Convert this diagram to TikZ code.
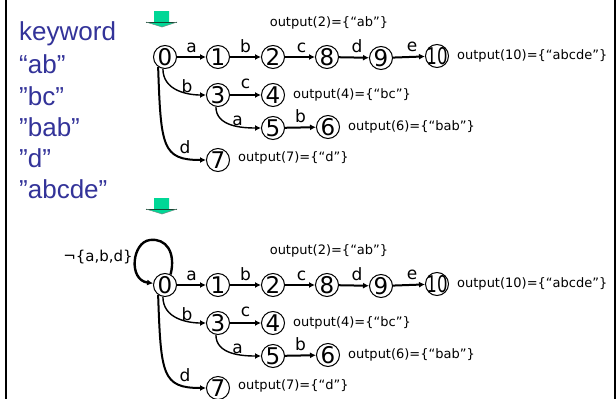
\documentclass[tikz,border=0pt]{standalone}
\usepackage{fontspec}
\usepackage{graphicx}
\setmainfont{DejaVu Sans}
\newfontfamily\kwfont{Liberation Sans}
\usetikzlibrary{arrows.meta}
\definecolor{kwblue}{RGB}{51,51,153}
\definecolor{mint}{RGB}{0,215,150}
\definecolor{mintdark}{RGB}{20,70,50}

\newcommand\drawtrie[2]{%
\begin{scope}[yshift=-#1pt]
  \node[st] (#2n0) at (165,-57) {0};
  \node[st] (#2n1) at (218,-57) {1};
  \node[st] (#2n2) at (273,-57) {2};
  \node[st] (#2n8) at (327,-57) {8};
  \node[st] (#2n9) at (381,-58) {9};
  \node[st] (#2n10) at (437,-56) {\makebox[0pt]{\scalebox{0.72}[1]{10}}};
  \node[st] (#2n3) at (218,-95) {3};
  \node[st] (#2n4) at (273,-95) {4};
  \node[st] (#2n5) at (273,-128) {5};
  \node[st] (#2n6) at (328,-127) {6};
  \node[st] (#2n7) at (218,-160) {7};
  \draw[ed] (#2n0) -- node[lb]{a} (#2n1);
  \draw[ed] (#2n1) -- node[lb]{b} (#2n2);
  \draw[ed] (#2n2) -- node[lb,pos=0.55]{c} (#2n8);
  \draw[ed] (#2n8) -- node[lb,pos=0.6]{d} (#2n9);
  \draw[ed] (#2n9) -- node[lb,pos=0.6]{e} (#2n10);
  \draw[ed] (#2n3) -- node[lb,yshift=2pt]{c} (#2n4);
  \draw[ed] (#2n5) -- node[lb]{b} (#2n6);
  \draw[edthin] (#2n0.-100) to[out=-90,in=180,out distance=22pt,in distance=18pt] (#2n3);
  \draw[edthin] (#2n3.-100) to[out=-90,in=180,out distance=20pt,in distance=18pt] (#2n5);
  \draw[ed] (#2n0.-125) to[out=-88,in=180,out distance=80pt,in distance=44pt] (#2n7);
  \node[lbf] (#2lb03) at (187,-92) {b};
  \node[lbf] (#2la35) at (237.5,-125) {a};
  \node[lbf] (#2ld07) at (185,-153) {d};
  \node[outl,anchor=center] (#2o2) at (329,-23) {output(2)=\{“ab”\}};
  \node[outl] (#2o10) at ([xshift=8pt]#2n10.east) {output(10)=\{“abcde”\}};
  \node[outl] (#2o4) at ([xshift=8pt]#2n4.east) {output(4)=\{“bc”\}};
  \node[outl] (#2o6) at ([xshift=8pt]#2n6.east) {output(6)=\{“bab”\}};
  \node[outl] (#2o7) at ([xshift=8pt,yshift=2pt]#2n7.east) {output(7)=\{“d”\}};
\end{scope}}

\newcommand\greenarrow[1]{%
\begin{scope}[yshift=-#1pt]
  \fill[mint] (154,-11) -- (169,-11) -- (169,-22) -- (177,-22) -- (162,-27) -- (146,-22) -- (154,-22) -- cycle;
  \draw[mintdark,line width=0.6pt] (146,-22) -- (177,-22);
  \draw[mintdark!60,line width=0.5pt] (146,-22) -- (162,-27) -- (177,-22);
\end{scope}}

\begin{document}
\begin{tikzpicture}[x=1pt,y=1pt,
  st/.style={circle,draw,fill=white,line width=1pt,minimum size=23pt,inner sep=0pt,font=\fontsize{23}{23}\selectfont},
  ed/.style={line width=2pt,-{Latex[length=6pt,width=6pt]}},
  edthin/.style={line width=1.4pt,-{Latex[length=6pt,width=6pt]}},
  lb/.style={anchor=base,font=\fontsize{17}{17}\selectfont,inner sep=0pt,yshift=5pt},
  lbf/.style={anchor=base,font=\fontsize{17}{17}\selectfont,inner sep=0pt},
  outl/.style={anchor=west,font=\fontsize{13}{13}\selectfont,inner sep=0pt},
  kw/.style={anchor=base west,font=\kwfont\fontsize{26}{26}\selectfont,text=kwblue,inner sep=0pt},
]
\useasboundingbox (0,0) rectangle (616,-399);
\draw[line width=2pt] (6,0) -- (6,-399);
\draw[line width=2pt] (614.5,0) -- (614.5,-399);

\node[kw] (k0) at (19,-40) {keyword};
\node[kw] (k1) at (19,-73) {“ab”};
\node[kw] (k2) at (19,-105) {”bc”};
\node[kw] (k3) at (19,-136) {”bab”};
\node[kw] (k4) at (19,-167) {”d”};
\node[kw] (k5) at (19,-198) {”abcde”};

\greenarrow{0}
\greenarrow{187}

\drawtrie{0}{t}
\drawtrie{228}{b}

\draw[line width=2.4pt,-{Latex[length=6pt,width=6pt]}] (bn0.62) .. controls (176,-252) and (166,-238) .. (150,-240)
  .. controls (132,-242) and (128,-280) .. (bn0.172);
\node[font=\fontsize{15}{15}\selectfont,inner sep=0pt] (neg) at (98,-257) {¬\{a,b,d\}};
\end{tikzpicture}
\end{document}
